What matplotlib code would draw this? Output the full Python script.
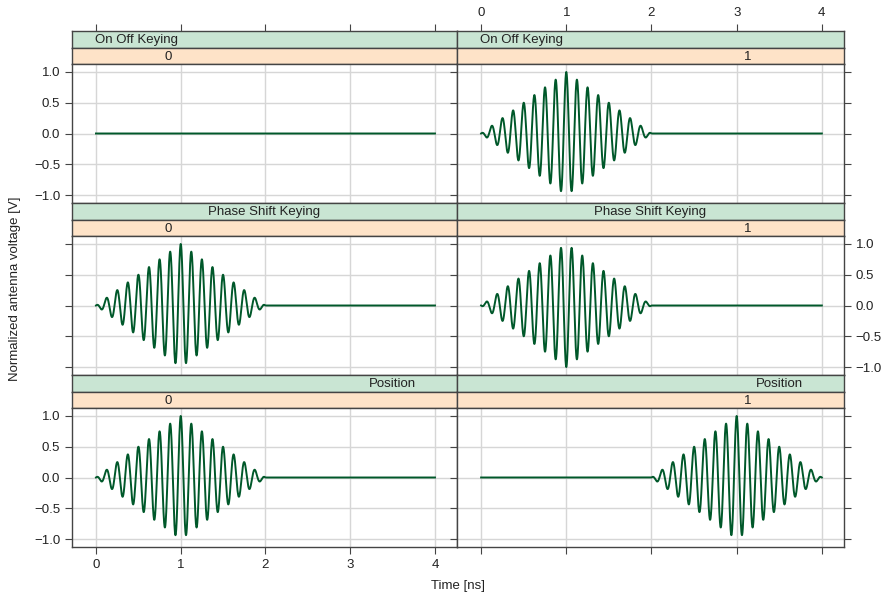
import numpy as np
import matplotlib.pyplot as plt

plt.rcParams['font.family'] = ['Liberation Sans', 'DejaVu Sans']
plt.rcParams['font.size'] = 9.5

# 数据
modulations = ['On Off Keying', 'Phase Shift Keying', 'Position']
bits = ['0', '1']
pulse_amp = [[0, 1], [1, -1], [1, 1]]      # 每个面板的脉冲幅度/极性
pulse_start = [[0, 0], [0, 0], [0, 2]]     # 脉冲起始时间 [ns]
pulse_width = 2.0                          # 脉冲宽度 [ns]
carrier_ghz = 8.0                          # 载波频率 [GHz]
t_range = [0, 4]
x_ticks = [0, 1, 2, 3, 4]
y_ticks = [-1.0, -0.5, 0.0, 0.5, 1.0]
y_ticklabels = ['\u22121.0', '\u22120.5', '0.0', '0.5', '1.0']

line_color = '#00582a'
green = '#c9e5d3'
orange = '#fee3c8'
frame = '#444444'
grid_c = '#d6d6d6'
text_c = '#222222'

W, H = 884, 597
fig = plt.figure(figsize=(W / 100, H / 100), dpi=100)

col_x = [72, 457, 844]
row_top = 31
row_h = (547 - 31) / 3
strip_h = 16.5
xlim = (-0.283, 4.26)


def fx(px):
    return px / W


def fy(py):
    return 1 - py / H


t = np.linspace(t_range[0], t_range[1], 4001)

for r, mod in enumerate(modulations):
    top = row_top + r * row_h
    for c, bit in enumerate(bits):
        x0, x1 = col_x[c], col_x[c + 1]
        # 条带
        for k, (lab, col, pos) in enumerate([
                (mod, green, (r + 0.5) / len(modulations)),
                (bit, orange, (c + 0.5) / len(bits))]):
            sy0 = top + k * strip_h
            sax = fig.add_axes([fx(x0), fy(sy0 + strip_h), fx(x1 - x0), strip_h / H])
            sax.set_facecolor(col)
            sax.set_xlim(xlim)
            sax.set_yticks([])
            for sp in sax.spines.values():
                sp.set_color(frame)
                sp.set_linewidth(1)
            if r == 0 and k == 0:
                # 第一行顶部的 x 刻度
                sax.set_xticks(x_ticks)
                sax.tick_params(axis='x', direction='out', length=5, width=0.8,
                                color=frame, labelcolor=text_c, labelsize=9.5,
                                top=True, bottom=False, labeltop=(c == 1),
                                labelbottom=False)
            else:
                sax.set_xticks([])
            sax.text((r + 0.5) / len(modulations) if k == 0 else (c + 0.5) / len(bits),
                     0.45, lab, ha='center', va='center', color=text_c,
                     transform=sax.transAxes)
        # 面板
        py0 = top + 2 * strip_h
        py1 = top + row_h
        ax = fig.add_axes([fx(x0), fy(py1), fx(x1 - x0), (py1 - py0) / H])
        start = pulse_start[r][c]
        amp = pulse_amp[r][c]
        tau = t - start
        env = np.where((tau >= 0) & (tau <= pulse_width),
                       1 - np.abs(tau - pulse_width / 2) / (pulse_width / 2), 0)
        v = amp * env * np.cos(2 * np.pi * carrier_ghz * (tau - pulse_width / 2))
        ax.plot(t, v, color=line_color, lw=1.4, zorder=3)
        ax.set_xlim(xlim)
        ax.set_ylim(-1.13, 1.13)
        ax.set_xticks(x_ticks)
        ax.set_yticks(y_ticks)
        ax.set_yticklabels(y_ticklabels)
        ax.grid(True, color=grid_c, lw=1)
        for sp in ax.spines.values():
            sp.set_color(frame)
            sp.set_linewidth(1)
        ax.tick_params(direction='out', length=5, width=0.8, color=frame,
                       labelcolor=text_c, labelsize=9.5)
        ax.tick_params(axis='x', top=False, bottom=(r == 2), labeltop=False,
                       labelbottom=(r == 2 and c == 0))
        ax.tick_params(axis='y', left=True, right=True,
                       labelleft=(c == 0 and r != 1),
                       labelright=(c == 1 and r == 1))

fig.text(fx(15), fy(289), 'Normalized antenna voltage [V]', rotation=90,
         ha='center', va='center', color=text_c)
fig.text(fx(458), fy(586), 'Time [ns]', ha='center', va='center', color=text_c)

plt.savefig('out.png', dpi=100)
